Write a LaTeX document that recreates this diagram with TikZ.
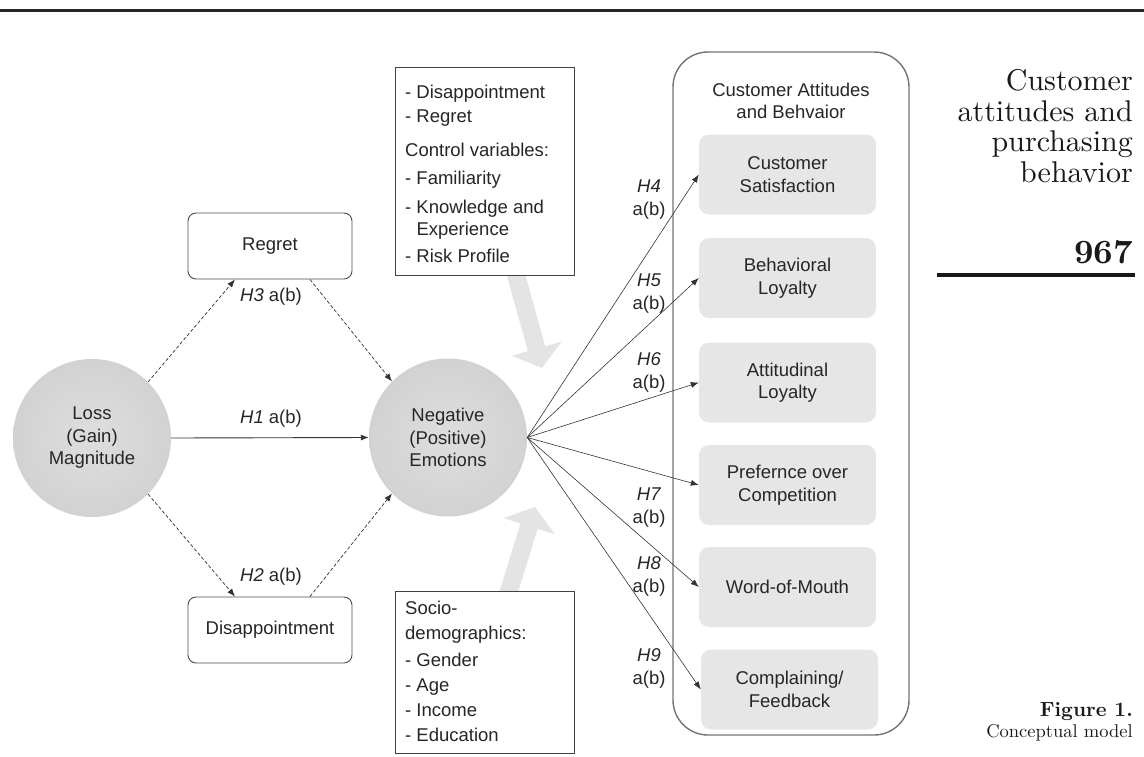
\documentclass[tikz,border=0pt]{standalone}
\usepackage{fontspec}
\newfontfamily\arial{Liberation Sans}
\newfontfamily\lmten{lmroman10-regular.otf}[BoldFont=lmroman10-bold.otf]
\usetikzlibrary{arrows.meta}
\definecolor{circin}{HTML}{DEDEDE}
\definecolor{circout}{HTML}{D2D2D2}
\definecolor{inboxc}{HTML}{E6E6E6}
\definecolor{garrow}{HTML}{E4E4E4}
\definecolor{linec}{HTML}{333333}
\begin{document}
\begin{tikzpicture}[x=1pt,y=-1pt,
  every node/.style={font=\fontsize{18.5}{22.5}\selectfont\arial, text=black!85},
  bigcirc/.style={circle, shading=radial, inner color=circin, outer color=circout, minimum size=158pt, inner sep=0pt, align=center},
  whitebox/.style={draw=black!70, line width=0.9pt, rounded corners=8pt, fill=white, minimum width=164pt, minimum height=66pt},
  sqbox/.style={draw=black!75, line width=1pt, fill=white, minimum width=179pt, inner sep=0pt},
  inbox/.style={fill=inboxc, rounded corners=10pt, minimum width=177pt, minimum height=80pt, align=center, inner sep=0pt},
  tip/.style={-{Latex[length=8pt,width=6pt]}},
  dasharrow/.style={tip, draw=linec, line width=0.7pt, dash pattern=on 3.5pt off 2pt},
  solidarrow/.style={tip, draw=linec, line width=0.9pt},
  fanarrow/.style={tip, draw=linec, line width=0.6pt},
  hlabel/.style={align=center, inner sep=0pt, font=\fontsize{18.5}{23}\selectfont\arial},
  serifnote/.style={inner sep=0pt, text=black!90, align=right}
]
\useasboundingbox (0,0) rectangle (1144,756);

% top rule
\draw[line width=3pt, draw=black!85] (0,10) -- (1144,10);

% light gray block arrows
\fill[garrow] (521.1,259.7) -- (545.3,346.3) -- (561.6,341.7) -- (542,368) -- (511.6,355.7) -- (527.9,351.1) -- (503.7,264.5) -- cycle;
\fill[garrow] (514.0,605.3) -- (537.7,528.8) -- (554.9,534.1) -- (535,507) -- (503.3,518.1) -- (520.5,523.4) -- (496.8,599.9) -- cycle;

% main nodes
\node[bigcirc] (loss) at (92,438) {Loss\\(Gain)\\Magnitude};
\node[bigcirc] (neg) at (448,437.5) {Negative\\(Positive)\\Emotions};
\node[whitebox] (regret) at (270,246) {Regret};
\node[whitebox] (disap) at (270,630) {Disappointment};

% control variables box
\node[sqbox, minimum height=208pt] (ctrl) at (484.5,171) {};
\node[anchor=north west, align=left, inner sep=0pt, font=\fontsize{18.5}{21.5}\selectfont\arial] (ctrltext) at (405,85)
  {- Disappointment\\[2.5pt]
   - Regret\\[12.5pt]
   Control variables:\\[6.5pt]
   - Familiarity\\[7.5pt]
   - Knowledge and\\
   \hphantom{- }Experience\\[5.5pt]
   - Risk Profile};

% socio-demographics box
\node[sqbox, minimum height=162pt] (socio) at (484.5,672) {};
\node[anchor=north west, align=left, inner sep=0pt, font=\fontsize{18.5}{25}\selectfont\arial] (sociotext) at (405,601)
  {Socio-\\
   demographics:\\[2pt]
   - Gender\\
   - Age\\
   - Income\\
   - Education};

% outcome container
\node[draw=black!55, line width=1.4pt, rounded corners=35pt, minimum width=236pt, minimum height=683pt, inner sep=0pt] (cab) at (791,393.5) {};
\node[align=center, inner sep=0pt] (cabtitle) at (791,101) {Customer Attitudes\\and Behvaior};

\node[inbox] (sat)  at (787.5,174.5) {Customer\\Satisfaction};
\node[inbox] (beh)  at (787.5,278)   {Behavioral\\Loyalty};
\node[inbox] (att)  at (787.5,382.5) {Attitudinal\\Loyalty};
\node[inbox] (pref) at (787.5,485)   {Prefernce over\\Competition};
\node[inbox] (wom)  at (787.5,587)   {Word-of-Mouth};
\node[inbox] (comp) at (789.5,689.5) {Complaining/\\Feedback};

% connectors left part
\draw[solidarrow] (loss.east) -- (neg.west);
\draw[dasharrow] (loss.45) -- ([xshift=-35pt]regret.south);
\draw[dasharrow] ([xshift=40pt]regret.south) -- (neg.135);
\draw[dasharrow] (loss.-45) -- ([xshift=-35pt]disap.north);
\draw[dasharrow] ([xshift=40pt]disap.north) -- (neg.-135);

% hypothesis labels left
\node[inner sep=0pt] (h3) at (271,297) {\textit{H3} a(b)};
\node[inner sep=0pt] (h1) at (271,419) {\textit{H1} a(b)};
\node[inner sep=0pt] (h2) at (271,577) {\textit{H2} a(b)};

% fan arrows
\foreach \t in {sat,beh,att,pref,wom,comp}
  \draw[fanarrow] (neg.east) -- (\t.west);

\node[hlabel] (h4) at (649,200) {\textit{H4}\\a(b)};
\node[hlabel] (h5) at (649,294) {\textit{H5}\\a(b)};
\node[hlabel] (h6) at (649,372) {\textit{H6}\\a(b)};
\node[hlabel] (h7) at (649,508) {\textit{H7}\\a(b)};
\node[hlabel] (h8) at (649,576) {\textit{H8}\\a(b)};
\node[hlabel] (h9) at (649,668) {\textit{H9}\\a(b)};

% margin notes
\node[serifnote, anchor=east, font=\fontsize{30}{30.7}\selectfont\lmten] (runhead) at (1133,126)
  {Customer\\attitudes and\\purchasing\\behavior};
\node[serifnote, anchor=base east, font=\fontsize{34}{36}\selectfont\lmten\bfseries] (pagenum) at (1133,263.5) {967};
\coordinate (ruleL) at (937,275);
\coordinate (ruleR) at (1135,275);
\draw[line width=4pt, draw=black!90] (ruleL) -- (ruleR);
\node[serifnote, anchor=base east, font=\fontsize{20.5}{22}\selectfont\lmten\bfseries] (figlabel) at (1133,716) {Figure 1.};
\node[serifnote, anchor=base east, font=\fontsize{18.5}{22}\selectfont\lmten] (figcap) at (1133,737) {Conceptual model};
\end{tikzpicture}
\end{document}
